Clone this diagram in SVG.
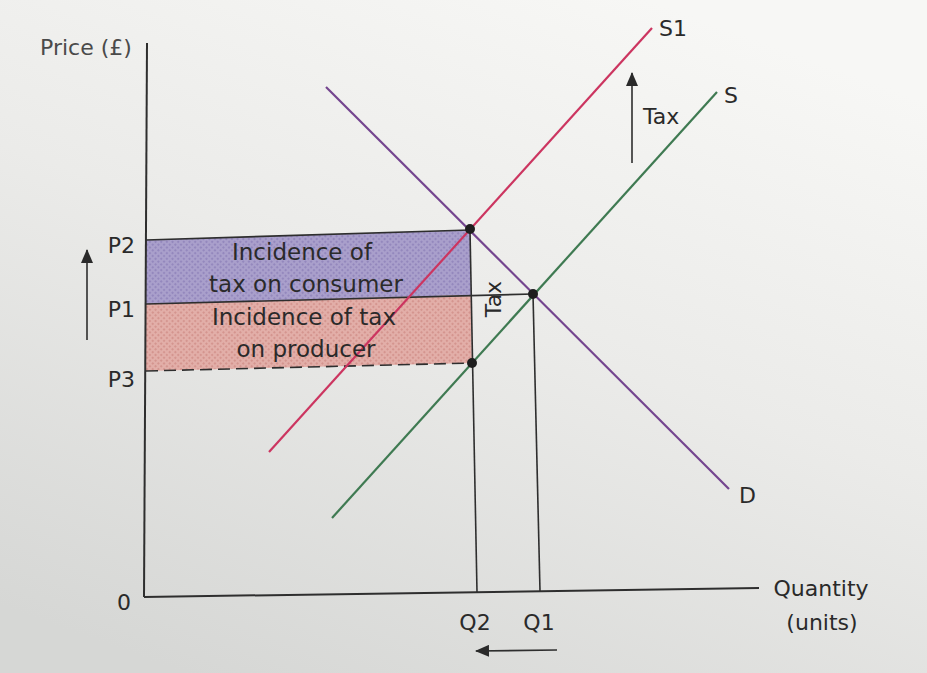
<svg xmlns="http://www.w3.org/2000/svg" width="927" height="673" viewBox="0 0 927 673">
  <defs>
    <linearGradient id="bg" x1="0.7" y1="0" x2="0.2" y2="1">
      <stop offset="0" stop-color="#f7f7f5"/>
      <stop offset="0.45" stop-color="#ebebe9"/>
      <stop offset="1" stop-color="#d6d7d5"/>
    </linearGradient>
    <pattern id="hatchP" width="4" height="4" patternUnits="userSpaceOnUse" patternTransform="rotate(45)">
      <rect width="4" height="4" fill="#a99fcb"/>
      <rect width="2" height="2" fill="#9488bd"/>
    </pattern>
    <pattern id="hatchR" width="4" height="4" patternUnits="userSpaceOnUse" patternTransform="rotate(45)">
      <rect width="4" height="4" fill="#e2aea8"/>
      <rect width="2" height="2" fill="#d4958f"/>
    </pattern>
    <marker id="arr" viewBox="0 0 14 12" refX="13" refY="6" markerWidth="14" markerHeight="12" orient="auto" markerUnits="userSpaceOnUse">
      <path d="M0,0 L14,6 L0,12 z" fill="#2a2a2a"/>
    </marker>
    <style>
      .lbl { font-family: "DejaVu Sans", "Liberation Sans", sans-serif; font-size: 22px; fill: #2a2a2a; }
      .big { font-size: 23px; }
      .ax { stroke: #2e2e2e; stroke-width: 2; fill: none; }
      .thin { stroke: #2e2e2e; stroke-width: 1.6; fill: none; }
      .dot { fill: #1e1e1e; }
    </style>
  </defs>

  <rect width="927" height="673" fill="url(#bg)"/>

  <g id="areas">
    <polygon points="146,240 470,230 471,295 146,304" fill="url(#hatchP)"/>
    <polygon points="146,304 471,295 472,363 146,371" fill="url(#hatchR)"/>
  </g>

  <g id="axes">
    <line class="ax" x1="147" y1="43" x2="144" y2="597"/>
    <line class="ax" x1="144" y1="597" x2="759" y2="588"/>
  </g>

  <g id="connectors">
    <line class="thin" x1="146" y1="240" x2="470" y2="230"/>
    <line class="thin" x1="146" y1="304" x2="533" y2="294"/>
    <line class="thin" x1="146" y1="371" x2="472" y2="363" stroke-dasharray="12,6"/>
    <line class="thin" x1="470" y1="230" x2="477" y2="592"/>
    <line class="thin" x1="533" y1="294" x2="540" y2="591"/>
  </g>

  <g id="curves">
    <line id="curve-D" x1="326" y1="87" x2="729" y2="489" stroke="#74458f" stroke-width="2.2"/>
    <line id="curve-S1" x1="269" y1="452" x2="652" y2="28" stroke="#cc3560" stroke-width="2.2"/>
    <line id="curve-S" x1="332" y1="518" x2="717" y2="92" stroke="#3f7a52" stroke-width="2.2"/>
  </g>

  <g id="points">
    <circle class="dot" cx="470" cy="229" r="5"/>
    <circle class="dot" cx="533" cy="294" r="5"/>
    <circle class="dot" cx="472" cy="363" r="5"/>
  </g>

  <g id="arrows">
    <line class="thin" x1="87" y1="340" x2="87" y2="250" marker-end="url(#arr)"/>
    <line class="thin" x1="632" y1="163" x2="632" y2="73" marker-end="url(#arr)"/>
    <line class="thin" x1="557" y1="650" x2="476" y2="651" marker-end="url(#arr)"/>
  </g>

  <g id="labels">
    <text class="lbl" x="86" y="55" text-anchor="middle" style="fill:#4a4a4a">Price (£)</text>
    <text class="lbl" x="124" y="610" text-anchor="middle">0</text>
    <text class="lbl" x="135" y="253" text-anchor="end">P2</text>
    <text class="lbl" x="135" y="317" text-anchor="end">P1</text>
    <text class="lbl" x="135" y="387" text-anchor="end">P3</text>
    <text class="lbl" x="475" y="630" text-anchor="middle">Q2</text>
    <text class="lbl" x="539" y="630" text-anchor="middle">Q1</text>
    <text class="lbl" x="821" y="596" text-anchor="middle">Quantity</text>
    <text class="lbl" x="822" y="630" text-anchor="middle">(units)</text>
    <text class="lbl" x="659" y="36">S1</text>
    <text class="lbl" x="724" y="103">S</text>
    <text class="lbl" x="739" y="503">D</text>
    <text class="lbl" x="643" y="124">Tax</text>
    <text class="lbl" transform="translate(501,299) rotate(-90)" text-anchor="middle">Tax</text>
    <text class="lbl big" x="302" y="260" text-anchor="middle">Incidence of</text>
    <text class="lbl big" x="306" y="292" text-anchor="middle">tax on consumer</text>
    <text class="lbl big" x="304" y="325" text-anchor="middle">Incidence of tax</text>
    <text class="lbl big" x="306" y="357" text-anchor="middle">on producer</text>
  </g>
</svg>
